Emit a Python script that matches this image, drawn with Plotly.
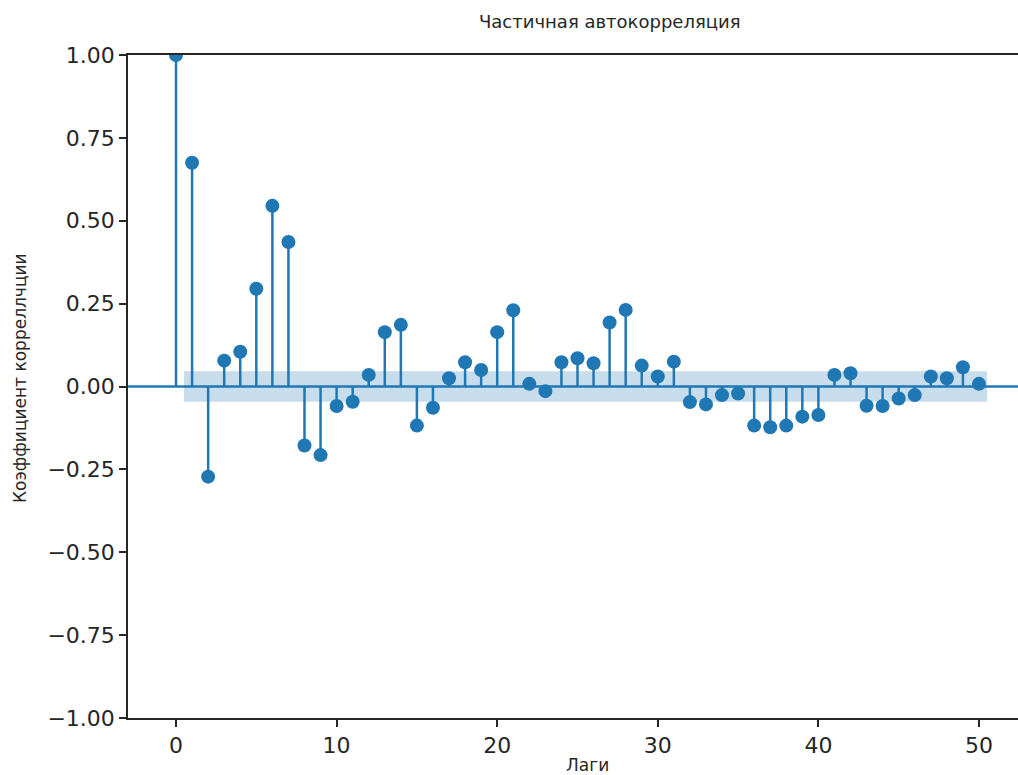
import plotly.graph_objects as go

lags = list(range(51))
pacf = [1.0, 0.675, -0.272, 0.078, 0.105, 0.295, 0.545, 0.436, -0.178, -0.207,
        -0.059, -0.046, 0.035, 0.164, 0.186, -0.118, -0.064, 0.025, 0.073, 0.050,
        0.164, 0.230, 0.008, -0.014, 0.073, 0.085, 0.070, 0.193, 0.231, 0.063,
        0.030, 0.075, -0.047, -0.054, -0.026, -0.021, -0.118, -0.123, -0.118, -0.091,
        -0.086, 0.035, 0.040, -0.058, -0.059, -0.036, -0.026, 0.030, 0.025, 0.058,
        0.008]
conf = 0.046
band_x = [0.5, 50.5]

title = "Частичная автокорреляция"
xlabel = "Лаги"
ylabel = "Коэффициент корреллчции"
yticks = [-1.0, -0.75, -0.5, -0.25, 0.0, 0.25, 0.5, 0.75, 1.0]
xticks = [0, 10, 20, 30, 40, 50]

W, H = 1018, 775
L, R, T, B = 128, 0, 55, 57
blue = "#1f77b4"
ink = "#262626"

fig = go.Figure()
# confidence band
fig.add_trace(go.Scatter(
    x=[band_x[0], band_x[1], band_x[1], band_x[0], band_x[0]],
    y=[conf, conf, -conf, -conf, conf],
    fill="toself", fillcolor="rgba(31,119,180,0.25)", line=dict(width=0),
    mode="lines", hoverinfo="skip", showlegend=False))
# zero line
fig.add_hline(y=0, line=dict(color=blue, width=2.5))
# stems
sx, sy = [], []
for k, v in zip(lags, pacf):
    sx += [k, k, None]
    sy += [0, v, None]
fig.add_trace(go.Scatter(x=sx, y=sy, mode="lines", line=dict(color=blue, width=2.5),
                         showlegend=False, hoverinfo="skip"))
fig.add_trace(go.Scatter(x=lags, y=pacf, mode="markers", cliponaxis=True,
                         marker=dict(color=blue, size=14), showlegend=False))

fig.update_layout(
    width=W, height=H, margin=dict(l=L, r=R, t=T, b=B, pad=0),
    plot_bgcolor="white", paper_bgcolor="white",
    font=dict(family="DejaVu Sans", color=ink),
)
fig.update_xaxes(range=[-2.99, 52.43], tickvals=xticks, ticks="outside", ticklen=7,
                 tickwidth=1.5, tickcolor=ink, showline=True, linecolor=ink, linewidth=1.5,
                 mirror=True, showgrid=False, zeroline=False,
                 tickfont=dict(size=22, family="DejaVu Sans", color=ink))
fig.update_yaxes(range=[-1.0, 1.0], tickvals=yticks,
                 ticktext=[("−" if v < 0 else "") + f"{abs(v):.2f}" for v in yticks],
                 ticks="outside", ticklen=7, tickwidth=1.5, tickcolor=ink, showline=True,
                 linecolor=ink, linewidth=1.5, showgrid=False, zeroline=False,
                 tickfont=dict(size=22, family="DejaVu Sans", color=ink))

def px_note(text, xp, yp, size, angle=0):
    fig.add_annotation(text=text, x=(xp - L) / (W - L - R), y=(H - yp - B) / (H - T - B),
                       xref="paper", yref="paper", showarrow=False,
                       xanchor="center", yanchor="middle", textangle=angle,
                       font=dict(size=size, family="DejaVu Sans", color=ink))

px_note(title, 610, 22, 18)
px_note(xlabel, 587, 765, 17)
px_note(ylabel, 20, 378, 17, angle=-90)

fig.write_html("out.html")
